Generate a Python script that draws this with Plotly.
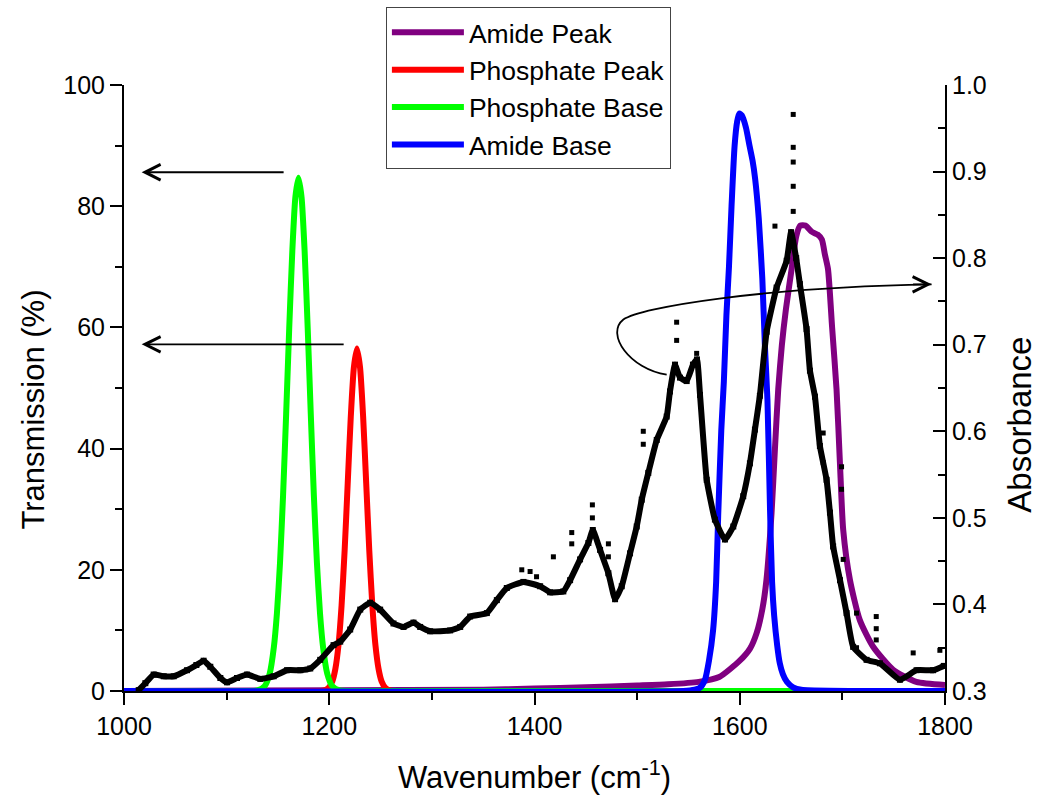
import plotly.graph_objects as go

# ---------------- data ----------------
# Fitted bands, left axis: Transmission (%)
amide_peak_wn = [1000, 1350, 1400, 1450, 1500, 1530, 1560, 1580, 1600, 1610, 1616.5, 1622, 1626, 1631,
                 1634.3, 1637.5, 1641, 1645, 1650.5, 1655, 1659, 1664, 1670, 1676, 1680, 1683, 1686,
                 1690, 1694.3, 1697.6, 1700.8, 1707.4, 1717, 1730, 1749.5, 1772, 1800]
amide_peak_t = [0, 0.2, 0.4, 0.6, 0.9, 1.1, 1.5, 2.3, 5.0, 7.0, 9.6, 13.5, 18.3, 29.4,
                40.0, 49.8, 57.0, 63.0, 69.6, 75.0, 76.8, 76.8, 75.8, 75.3, 74.5, 72.0, 69.6,
                60.0, 49.8, 37.7, 26.6, 18.3, 11.7, 7.3, 3.5, 1.5, 1.0]

phosphate_peak_wn = [1000, 1185, 1194, 1199, 1203, 1206, 1209, 1212, 1215, 1218, 1221, 1224, 1227,
                     1230, 1233, 1236, 1239, 1242, 1245, 1248, 1251, 1255, 1260, 1270, 1800]
phosphate_peak_t = [0, 0, 0.07, 0.45, 1.6, 3.7, 7.6, 14.1, 23.2, 34.3, 45.3, 53.4, 56.5,
                    53.4, 45.3, 34.3, 23.2, 14.1, 7.6, 3.7, 1.6, 0.45, 0.07, 0, 0]

phosphate_base_wn = [1000, 1120, 1130, 1137, 1142, 1146, 1149, 1152, 1155, 1158, 1161, 1164, 1167, 1170,
                     1173, 1176, 1179, 1182, 1185, 1188, 1191, 1194, 1198, 1203, 1210, 1225, 1800]
phosphate_base_t = [0, 0, 0.1, 0.8, 2.9, 7.2, 12.8, 21.1, 32.3, 45.7, 59.9, 72.6, 81.5, 84.7,
                    81.5, 72.6, 59.9, 45.7, 32.3, 21.1, 12.8, 7.2, 2.9, 0.8, 0.1, 0, 0]

amide_base_wn = [1000, 1545, 1556, 1561, 1566, 1570, 1574, 1577, 1579, 1582, 1584.5, 1587, 1589.5, 1592,
                 1595, 1597.5, 1599.5, 1602, 1606, 1609.5, 1612.5, 1615, 1618.5, 1622, 1624.5, 1627,
                 1629.5, 1631.5, 1633.5, 1636.5, 1639, 1642, 1646, 1652, 1660, 1800]
amide_base_t = [0, 0, 0.2, 0.5, 1.8, 5, 10, 18, 29, 43, 51, 62, 70, 80,
                90, 94, 95.3, 95, 93, 90, 87.5, 84.5, 78, 68, 57, 48,
                30, 18, 12.5, 7.5, 4.6, 2.8, 1.5, 0.6, 0.2, 0]

# Measured spectrum, right axis: Absorbance
spec_wn = [1014.3, 1020.8, 1028.9, 1038.7, 1048.4, 1061.4, 1070.5, 1077.6, 1084.1, 1093.9, 1100.4,
           1110.1, 1119.9, 1132.8, 1145.8, 1158.8, 1171.8, 1181.5, 1191.2, 1204.2, 1210.7, 1220.4,
           1230.2, 1239.9, 1249.6, 1262.6, 1272.4, 1282.1, 1288.6, 1298.3, 1317.8, 1327.6, 1337.3,
           1353.6, 1363.3, 1373.0, 1389.2, 1405.5, 1415.2, 1428.1, 1434.7, 1444.4, 1452.5, 1456.8,
           1463.9, 1472.0, 1478.5, 1485.0, 1493.1, 1499.6, 1504.5, 1510.9, 1519.1, 1528.8, 1532.0,
           1536.9, 1541.8, 1548.3, 1554.4, 1558.3, 1561.3, 1567.8, 1575.8, 1585.6, 1593.7, 1603.4,
           1609.9, 1614.8, 1619.6, 1626.2, 1635.9, 1645.7, 1650.0, 1655.0, 1658.6, 1665.1, 1668.4,
           1673.3, 1678.1, 1684.6, 1687.9, 1691.0, 1697.7, 1704.1, 1710.5, 1723.6, 1736.6, 1756.1,
           1772.3, 1788.4, 1798.8]
spec_abs = [0.301, 0.309, 0.319, 0.317, 0.317, 0.324, 0.330, 0.335, 0.328, 0.315, 0.310,
            0.315, 0.319, 0.314, 0.317, 0.324, 0.324, 0.326, 0.336, 0.353, 0.357, 0.371,
            0.394, 0.402, 0.394, 0.378, 0.374, 0.379, 0.374, 0.369, 0.370, 0.374, 0.386,
            0.390, 0.405, 0.419, 0.426, 0.421, 0.414, 0.415, 0.428, 0.452, 0.471, 0.486,
            0.463, 0.436, 0.406, 0.421, 0.459, 0.490, 0.521, 0.552, 0.590, 0.617, 0.646,
            0.677, 0.662, 0.658, 0.677, 0.683, 0.642, 0.544, 0.498, 0.475, 0.490, 0.525,
            0.563, 0.602, 0.641, 0.715, 0.766, 0.797, 0.830, 0.800, 0.770, 0.718, 0.670,
            0.640, 0.583, 0.544, 0.506, 0.467, 0.428, 0.390, 0.351, 0.336, 0.332, 0.313,
            0.324, 0.324, 0.329]

# Isolated noisy points of the spectrum
spike_wn = [1387.6, 1395.7, 1402.0, 1418.4, 1436.3, 1436.3, 1456.4, 1456.4, 1472.0, 1472.0,
            1506.0, 1506.0, 1538.5, 1538.5, 1558.0, 1634.3, 1652.1, 1652.1, 1652.1, 1652.1,
            1652.1, 1681.3, 1681.3, 1699.2, 1699.2, 1700.8, 1713.8, 1713.8, 1733.0, 1733.0,
            1733.0, 1769.0, 1795.0]
spike_abs = [0.440, 0.438, 0.432, 0.455, 0.483, 0.470, 0.515, 0.500, 0.470, 0.455,
             0.600, 0.585, 0.726, 0.705, 0.690, 0.837, 0.966, 0.928, 0.911, 0.883,
             0.854, 0.598, 0.564, 0.559, 0.533, 0.452, 0.390, 0.350, 0.386, 0.372,
             0.359, 0.344, 0.347]

FONT = "Liberation Sans, Arial, sans-serif"

fig = go.Figure()

series = [
    ("Amide Peak", amide_peak_wn, amide_peak_t, "#800080"),
    ("Phosphate Peak", phosphate_peak_wn, phosphate_peak_t, "#FF0000"),
    ("Phosphate Base", phosphate_base_wn, phosphate_base_t, "#00FF00"),
    ("Amide Base", amide_base_wn, amide_base_t, "#0000FF"),
]
for name, xs, ys, col in series:
    fig.add_trace(go.Scatter(x=xs, y=ys, name=name, mode="lines",
                             line=dict(color=col, width=6, shape="spline", smoothing=0.6),
                             yaxis="y"))

fig.add_trace(go.Scatter(x=spec_wn, y=spec_abs, mode="lines+markers", showlegend=False,
                         line=dict(color="black", width=6, shape="spline", smoothing=0.4),
                         marker=dict(symbol="square", size=6, color="black"),
                         yaxis="y2"))
fig.add_trace(go.Scatter(x=spike_wn, y=spike_abs, mode="markers", showlegend=False,
                         marker=dict(symbol="square", size=5, color="black"),
                         yaxis="y2"))

axis_common = dict(showline=True, linecolor="black", linewidth=2, showgrid=False, zeroline=False,
                   tickcolor="black", tickwidth=2, ticklen=12,
                   tickfont=dict(family=FONT, size=25, color="black"))

fig.update_layout(
    width=1040, height=796,
    margin=dict(l=124, r=95, t=85, b=105, autoexpand=False),
    paper_bgcolor="white", plot_bgcolor="white",
    font=dict(family=FONT, color="black"),
    xaxis=dict(range=[1000, 1800], tick0=1000, dtick=200, ticks="outside",
               minor=dict(dtick=100, ticks="outside", ticklen=7, tickwidth=2, tickcolor="black"),
               **axis_common),
    yaxis=dict(range=[0, 100], tick0=0, dtick=20, ticks="outside",
               minor=dict(dtick=10, ticks="outside", ticklen=7, tickwidth=2, tickcolor="black"),
               **axis_common),
    yaxis2=dict(range=[0.3, 1.0], tick0=0.3, dtick=0.1, tickformat=".1f", ticks="inside",
                overlaying="y", side="right",
                minor=dict(dtick=0.05, ticks="inside", ticklen=7, tickwidth=2, tickcolor="black"),
                **axis_common),
    showlegend=True,
    legend=dict(x=0.319, y=1.1279, xanchor="left", yanchor="top",
                bordercolor="#444444", borderwidth=1, bgcolor="white",
                font=dict(family=FONT, size=26.5, color="black"),
                itemwidth=72, tracegroupgap=0),
)

# Axis titles as annotations
fig.add_annotation(text="Wavenumber (cm<sup>-1</sup>)", xref="paper", yref="paper",
                   x=0.5, y=-0.138, xanchor="center", yanchor="middle", showarrow=False,
                   font=dict(family=FONT, size=31, color="black"))
fig.add_annotation(text="Transmission (%)", xref="paper", yref="paper",
                   x=-0.1105, y=0.465, textangle=-90, xanchor="center", yanchor="middle",
                   showarrow=False, font=dict(family=FONT, size=31, color="black"))
fig.add_annotation(text="Absorbance", xref="paper", yref="paper",
                   x=1.0905, y=0.44, textangle=-90, xanchor="center", yanchor="middle",
                   showarrow=False, font=dict(family=FONT, size=33, color="black"))

# Straight arrows pointing to the left axis
for y_level, tail_x in [(85.6, 1157.0), (57.2, 1215.5)]:
    fig.add_annotation(x=1017.2, y=y_level, ax=tail_x, ay=y_level, xref="x", yref="y",
                       axref="x", ayref="y", showarrow=True, arrowhead=5, arrowsize=1.7,
                       arrowwidth=1.8, arrowcolor="black", text="")

# Curved arrow pointing to the right axis
fig.add_shape(type="path", xref="x", yref="y",
              path="M 1528.8,52.2 C 1493.1,53.1 1468.7,58.9 1486.6,61.3 "
                   "C 1502.8,63.3 1619.7,66.6 1786.9,67.1",
              line=dict(color="black", width=1.8))
fig.add_annotation(x=1786.9, y=67.1, ax=-20, ay=0, xref="x", yref="y", showarrow=True,
                   arrowhead=5, arrowsize=1.7, arrowwidth=1.8, arrowcolor="black", text="")

fig.write_html("out.html")
